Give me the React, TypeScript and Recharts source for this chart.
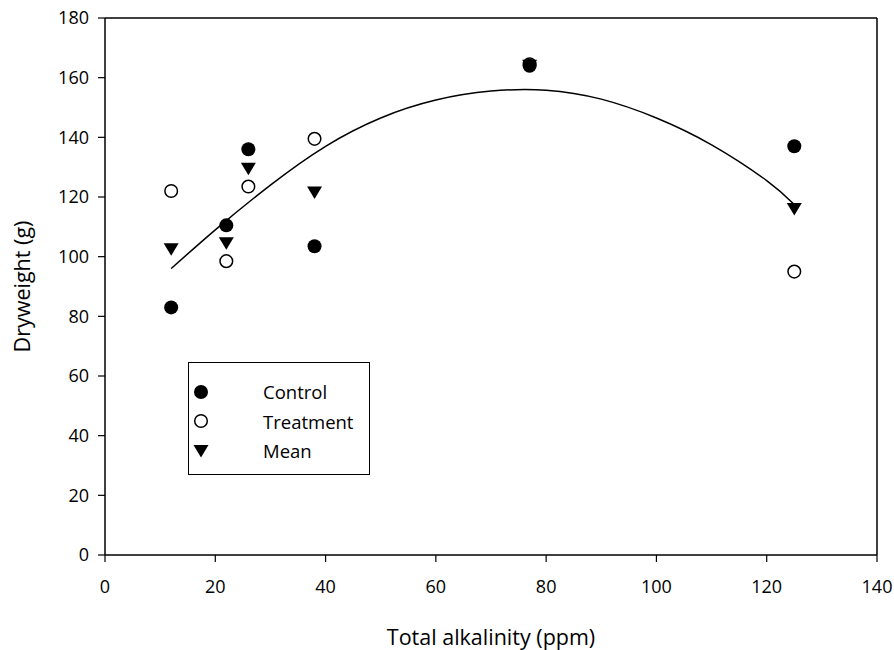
import { ComposedChart, Scatter, Line, XAxis, YAxis, ReferenceLine, Legend } from "recharts";

// readings taken off the plot
const alkalinity = [12, 22, 26, 38, 77, 125];
const control = [83, 110.5, 136, 103.5, 164, 137];
const treatment = [122, 98.5, 123.5, 139.5, 164.5, 95];
const mean = [102.5, 104.5, 129.5, 121.5, 164, 116];

// fitted curve
const fitX = [12, 20, 30, 40, 50, 60, 70, 80, 90, 100, 110, 120, 125];
const fitY = [96, 109, 124, 137, 146.5, 152.5, 155.5, 155.8, 152.8, 146.5, 137.5, 125.5, 117.5];

const xTicks = [0, 20, 40, 60, 80, 100, 120, 140];
const yTicks = [0, 20, 40, 60, 80, 100, 120, 140, 160, 180];

const font = "'Open Sans', sans-serif";
const ink = "#000";

const toPts = (ys: number[]) => alkalinity.map((x, i) => ({ x, y: ys[i] }));
const controlPts = toPts(control);
const treatmentPts = toPts(treatment);
const meanPts = toPts(mean);
const fitPts = fitX.map((x, i) => ({ x, y: fitY[i] }));

const FilledDot = (p: any) => <circle cx={p.cx} cy={p.cy} r={7} fill={ink} />;
const OpenDot = (p: any) => <circle cx={p.cx} cy={p.cy} r={6.3} fill="#fff" stroke={ink} strokeWidth={1.5} />;
const DownTri = (p: any) => (
  <path d={`M${p.cx - 7.5},${p.cy - 6} L${p.cx + 7.5},${p.cy - 6} L${p.cx},${p.cy + 6.5} Z`} fill={ink} />
);

const legendRows = [
  { name: "Control", kind: "filled" },
  { name: "Treatment", kind: "open" },
  { name: "Mean", kind: "tri" },
];

const LegendBox = () => (
  <div style={{ border: "1px solid #000", width: 182, height: 113, boxSizing: "border-box", background: "#fff", fontFamily: font, fontSize: 18.5, color: ink, paddingTop: 14 }}>
    {legendRows.map((r) => (
      <div key={r.name} style={{ display: "flex", alignItems: "center", height: 29.5 }}>
        <svg width={24} height={20}>
          {r.kind === "filled" && <circle cx={12} cy={10} r={7} fill={ink} />}
          {r.kind === "open" && <circle cx={12} cy={10} r={6.3} fill="#fff" stroke={ink} strokeWidth={1.5} />}
          {r.kind === "tri" && <path d="M4.5,4 L19.5,4 L12,16.5 Z" fill={ink} />}
        </svg>
        <span style={{ marginLeft: 50 }}>{r.name}</span>
      </div>
    ))}
  </div>
);

const YTitle = ({ viewBox }: any) => {
  const x = viewBox.x + 21;
  const y = viewBox.y + viewBox.height / 2;
  return (
    <text x={x} y={y} transform={`rotate(-90 ${x} ${y})`} textAnchor="middle" dominantBaseline="central" fontFamily={font} fontSize={21.5} fill={ink}>
      Dryweight (g)
    </text>
  );
};

const XTitle = ({ viewBox }: any) => (
  <text x={viewBox.x + viewBox.width / 2} y={viewBox.y + 81} textAnchor="middle" dominantBaseline="central" fontFamily={font} fontSize={21.5} fill={ink}>
    Total alkalinity (ppm)
  </text>
);

export default function App() {
  const tick = { fill: ink, fontSize: 18, fontFamily: font };
  return (
    <div style={{ position: "absolute", left: 0, top: 0, background: "#fff" }}>
      <ComposedChart width={894} height={650} margin={{ top: 18, right: 17, bottom: 0, left: 0 }}>
        <XAxis
          type="number"
          dataKey="x"
          domain={[0, 140]}
          ticks={xTicks}
          allowDataOverflow
          height={95}
          tick={tick}
          tickSize={7}
          tickMargin={18}
          axisLine={{ stroke: ink, strokeWidth: 1.5 }}
          tickLine={{ stroke: ink, strokeWidth: 1.2 }}
          label={<XTitle />}
        />
        <YAxis
          type="number"
          dataKey="y"
          domain={[0, 180]}
          ticks={yTicks}
          allowDataOverflow
          width={105}
          tick={tick}
          tickSize={7}
          tickMargin={9}
          axisLine={{ stroke: ink, strokeWidth: 1.5 }}
          tickLine={{ stroke: ink, strokeWidth: 1.2 }}
          label={<YTitle />}
        />
        <ReferenceLine y={180} stroke={ink} strokeWidth={1.5} />
        <ReferenceLine x={140} stroke={ink} strokeWidth={1.5} />
        <Line data={fitPts} dataKey="y" type="natural" stroke={ink} strokeWidth={1.5} dot={false} isAnimationActive={false} legendType="none" />
        <Scatter name="Treatment" data={treatmentPts} dataKey="y" shape={OpenDot} isAnimationActive={false} />
        <Scatter name="Control" data={controlPts} dataKey="y" shape={FilledDot} isAnimationActive={false} />
        <Scatter name="Mean" data={meanPts} dataKey="y" shape={DownTri} isAnimationActive={false} />
        <Legend
          layout="horizontal"
          verticalAlign="middle"
          content={<LegendBox />}
          wrapperStyle={{ position: "absolute", left: 188, top: 362, width: 182, height: 113 }}
        />
      </ComposedChart>
    </div>
  );
}
